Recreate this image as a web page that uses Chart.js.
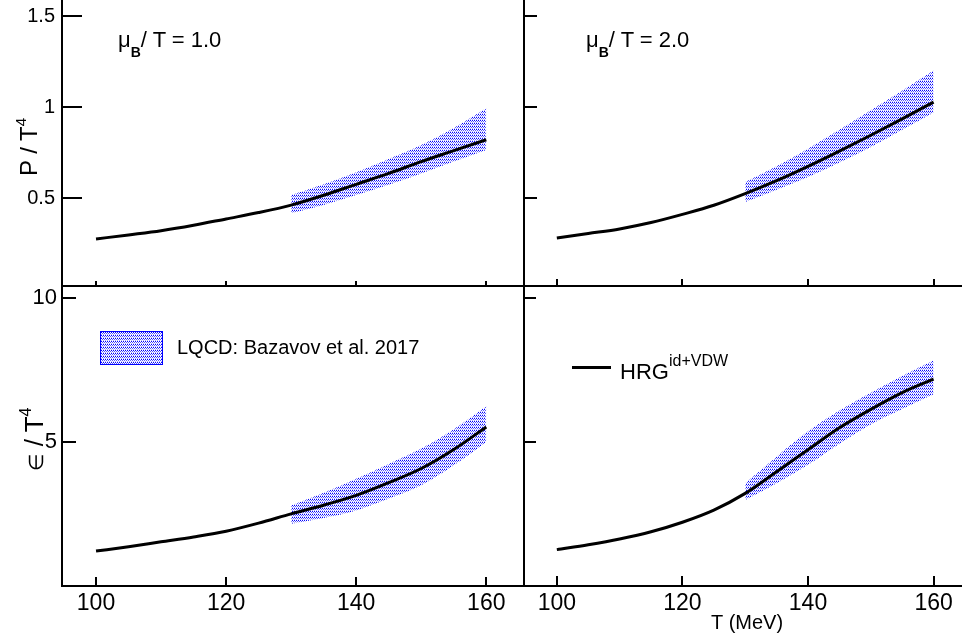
<!DOCTYPE html>
<html>
<head>
<meta charset="utf-8">
<script src="https://cdn.jsdelivr.net/npm/chart.js@4/dist/chart.umd.min.js"></script>
<style>
  html, body { margin: 0; padding: 0; background: #fff; overflow: hidden; width: 962px; height: 640px; }
  body { position: relative; font-family: "Liberation Sans", Arial, sans-serif; color: #000; }
  canvas { position: absolute; }
  .t { position: absolute; white-space: nowrap; line-height: 1; }
  .rot { transform: translate(-50%, -50%) rotate(-90deg); }
</style>
</head>
<body>
<canvas id="tl" width="540" height="300" style="left:0;top:0"></canvas>
<canvas id="tr" width="470" height="300" style="left:510px;top:0"></canvas>
<canvas id="bl" width="540" height="360" style="left:0;top:280px"></canvas>
<canvas id="br" width="470" height="360" style="left:510px;top:280px"></canvas>

<div class="t" style="left:118px;top:29px;font-size:22px">μ<span style="font-size:14px;font-weight:bold;vertical-align:-10px">B</span>/ T = 1.0</div>
<div class="t" style="left:586px;top:29px;font-size:22px">μ<span style="font-size:14px;font-weight:bold;vertical-align:-10px">B</span>/ T = 2.0</div>

<div class="t rot" style="left:27px;top:147px;font-size:24px">P / T<span style="font-size:15px;vertical-align:11px">4</span></div>
<div class="t rot" style="left:32px;top:439px;font-size:26px"><span style="font-size:20px">∈</span> / T<span style="font-size:16px;vertical-align:12px">4</span></div>

<div id="lqcdBox" style="position:absolute;left:100px;top:331px;width:61px;height:32px;border:1px solid #0000ff"></div>
<div class="t" style="left:177px;top:337px;font-size:20px">LQCD: Bazavov et al. 2017</div>

<div style="position:absolute;left:572px;top:366px;width:39px;height:3px;background:#000"></div>
<div class="t" style="left:620px;top:361px;font-size:22px">HRG</div>
<div class="t" style="left:669px;top:353px;font-size:16px">id+VDW</div>

<script>
// temperature grid (MeV)
const temps = [100, 105, 110, 115, 120, 125, 130, 135, 140, 145, 150, 155, 160];
const bandTemps = [130, 135, 140, 145, 150, 155, 160];

// P/T^4, muB/T = 1.0
const p1Line = [0.275, 0.297, 0.32, 0.35, 0.385, 0.42, 0.461, 0.515, 0.575, 0.635, 0.70, 0.76, 0.82];
const p1Upper = [0.516, 0.575, 0.641, 0.715, 0.791, 0.885, 0.993];
const p1Lower = [0.416, 0.462, 0.516, 0.573, 0.635, 0.70, 0.764];

// P/T^4, muB/T = 2.0
const p2Line = [0.28, 0.305, 0.33, 0.365, 0.41, 0.46, 0.524, 0.595, 0.674, 0.758, 0.845, 0.935, 1.027];
const p2Upper = [0.588, 0.675, 0.771, 0.875, 0.982, 1.09, 1.20];
const p2Lower = [0.478, 0.545, 0.615, 0.695, 0.78, 0.875, 0.97];

// e/T^4, muB/T = 1.0
const e1Line = [1.23, 1.38, 1.55, 1.72, 1.92, 2.2, 2.52, 2.82, 3.16, 3.6, 4.09, 4.75, 5.53];
const e1Upper = [2.81, 3.25, 3.74, 4.25, 4.78, 5.45, 6.26];
const e1Lower = [2.18, 2.38, 2.64, 3.05, 3.51, 4.2, 5.01];

// e/T^4, muB/T = 2.0
const e2Line = [1.28, 1.45, 1.65, 1.9, 2.23, 2.65, 3.23, 3.98, 4.74, 5.5, 6.14, 6.72, 7.19];
const e2Upper = [3.58, 4.5, 5.38, 6.1, 6.72, 7.3, 7.83];
const e2Lower = [3.0, 3.58, 4.22, 4.95, 5.62, 6.15, 6.66];

const xTicks = [100, 120, 140, 160];
const pTicks = [0.5, 1, 1.5];
const pTickLabels = ['0.5', '1', '1.5'];
const eTicks = [5, 10];
const eTickLabels = ['5', '10'];

// dotted blue fill like the ROOT hatch
const pc = document.createElement('canvas');
pc.width = 2; pc.height = 3;
const pctx = pc.getContext('2d');
pctx.fillStyle = '#0000ff'; pctx.fillRect(0, 0, 1, 1);
pctx.fillStyle = '#5a5aff'; pctx.fillRect(1, 1, 1, 1);
pctx.fillStyle = '#b4b4ff'; pctx.fillRect(0, 2, 1, 1);
const dots = pctx.createPattern(pc, 'repeat');
document.getElementById('lqcdBox').style.background = 'url(' + pc.toDataURL() + ') repeat';

const innerTicks = {
  id: 'innerTicks',
  afterDraw(chart, args, opts) {
    const { ctx, chartArea: a, scales: { x, y } } = chart;
    ctx.save();
    ctx.strokeStyle = '#000';
    ctx.lineWidth = 2;
    ctx.beginPath();
    x.ticks.forEach(t => {
      const px = Math.round(x.getPixelForValue(t.value));
      ctx.moveTo(px, a.bottom);
      ctx.lineTo(px, a.bottom - opts.x);
    });
    y.ticks.forEach(t => {
      const py = Math.round(y.getPixelForValue(t.value));
      ctx.moveTo(a.left, py);
      ctx.lineTo(a.left + opts.y, py);
    });
    ctx.stroke();
    ctx.restore();
  }
};

const pts = (xs, ys) => xs.map((v, i) => ({ x: v, y: ys[i] }));

function panel(id, p) {
  new Chart(document.getElementById(id), {
    type: 'line',
    data: {
      datasets: [
        { data: pts(bandTemps, p.upper), borderWidth: 0, pointRadius: 0, fill: '+1', order: 2,
          backgroundColor: dots, cubicInterpolationMode: 'monotone' },
        { data: pts(bandTemps, p.lower), borderWidth: 0, pointRadius: 0, fill: false, order: 3,
          cubicInterpolationMode: 'monotone' },
        { data: pts(temps, p.line), borderColor: '#000', borderWidth: 3, pointRadius: 0, fill: false,
          order: 0, cubicInterpolationMode: 'monotone' }
      ]
    },
    options: {
      responsive: false,
      animation: false,
      layout: { padding: { top: p.padTop, right: p.padRight, left: 0, bottom: 0 } },
      plugins: { legend: { display: false }, tooltip: { enabled: false }, innerTicks: p.tick },
      scales: {
        x: {
          type: 'linear', min: 94.77, max: 165.8,
          afterBuildTicks: s => { s.ticks = xTicks.map(v => ({ value: v })); },
          afterFit: s => { s.height = p.xh; s.paddingLeft = 0; s.paddingRight = 0; },
          grid: { display: false, drawTicks: false },
          border: { display: true, color: '#000', width: 2 },
          ticks: { display: p.xLabels, color: '#000', padding: 4, maxRotation: 0, autoSkip: false,
                   font: { family: 'Liberation Sans, Arial', size: 23 } },
          title: p.xTitle ? { display: true, text: 'T (MeV)', color: '#000', padding: { top: 0, bottom: 5 },
                   font: { family: 'Liberation Sans, Arial', size: 20 } } : { display: false }
        },
        y: {
          type: 'linear', min: p.ymin, max: p.ymax,
          afterBuildTicks: s => { s.ticks = p.yTicks.map(v => ({ value: v })); },
          afterFit: s => { s.width = p.yw; s.paddingTop = 0; s.paddingBottom = 0; },
          grid: { display: false, drawTicks: false },
          border: { display: true, color: '#000', width: 2 },
          ticks: { display: p.yLabels, color: '#000', padding: p.yPad,
                   callback: v => p.yTickLabels[p.yTicks.indexOf(v)],
                   font: { family: 'Liberation Sans, Arial', size: p.yFont } }
        }
      }
    },
    plugins: [innerTicks]
  });
}

panel('tl', { line: p1Line, upper: p1Upper, lower: p1Lower, ymin: 0.0165, ymax: 1.588,
  yTicks: pTicks, yTickLabels: pTickLabels, padTop: 0, padRight: 16, xh: 14, yw: 62,
  xLabels: false, yLabels: true, yPad: 7, yFont: 20, xTitle: false, tick: { x: 5, y: 20 } });
panel('tr', { line: p2Line, upper: p2Upper, lower: p2Lower, ymin: 0.0165, ymax: 1.588,
  yTicks: pTicks, yTickLabels: pTickLabels, padTop: 0, padRight: 10, xh: 14, yw: 14,
  xLabels: false, yLabels: false, yPad: 7, yFont: 20, xTitle: false, tick: { x: 7, y: 13 } });
panel('bl', { line: e1Line, upper: e1Upper, lower: e1Lower, ymin: 0.02, ymax: 10.38,
  yTicks: eTicks, yTickLabels: eTickLabels, padTop: 7, padRight: 16, xh: 54, yw: 62,
  xLabels: true, yLabels: true, yPad: 5, yFont: 22, xTitle: false, tick: { x: 9, y: 14 } });
panel('br', { line: e2Line, upper: e2Upper, lower: e2Lower, ymin: 0.02, ymax: 10.38,
  yTicks: eTicks, yTickLabels: eTickLabels, padTop: 7, padRight: 10, xh: 54, yw: 14,
  xLabels: true, yLabels: false, yPad: 5, yFont: 22, xTitle: true, tick: { x: 10, y: 12 } });
</script>
</body>
</html>
